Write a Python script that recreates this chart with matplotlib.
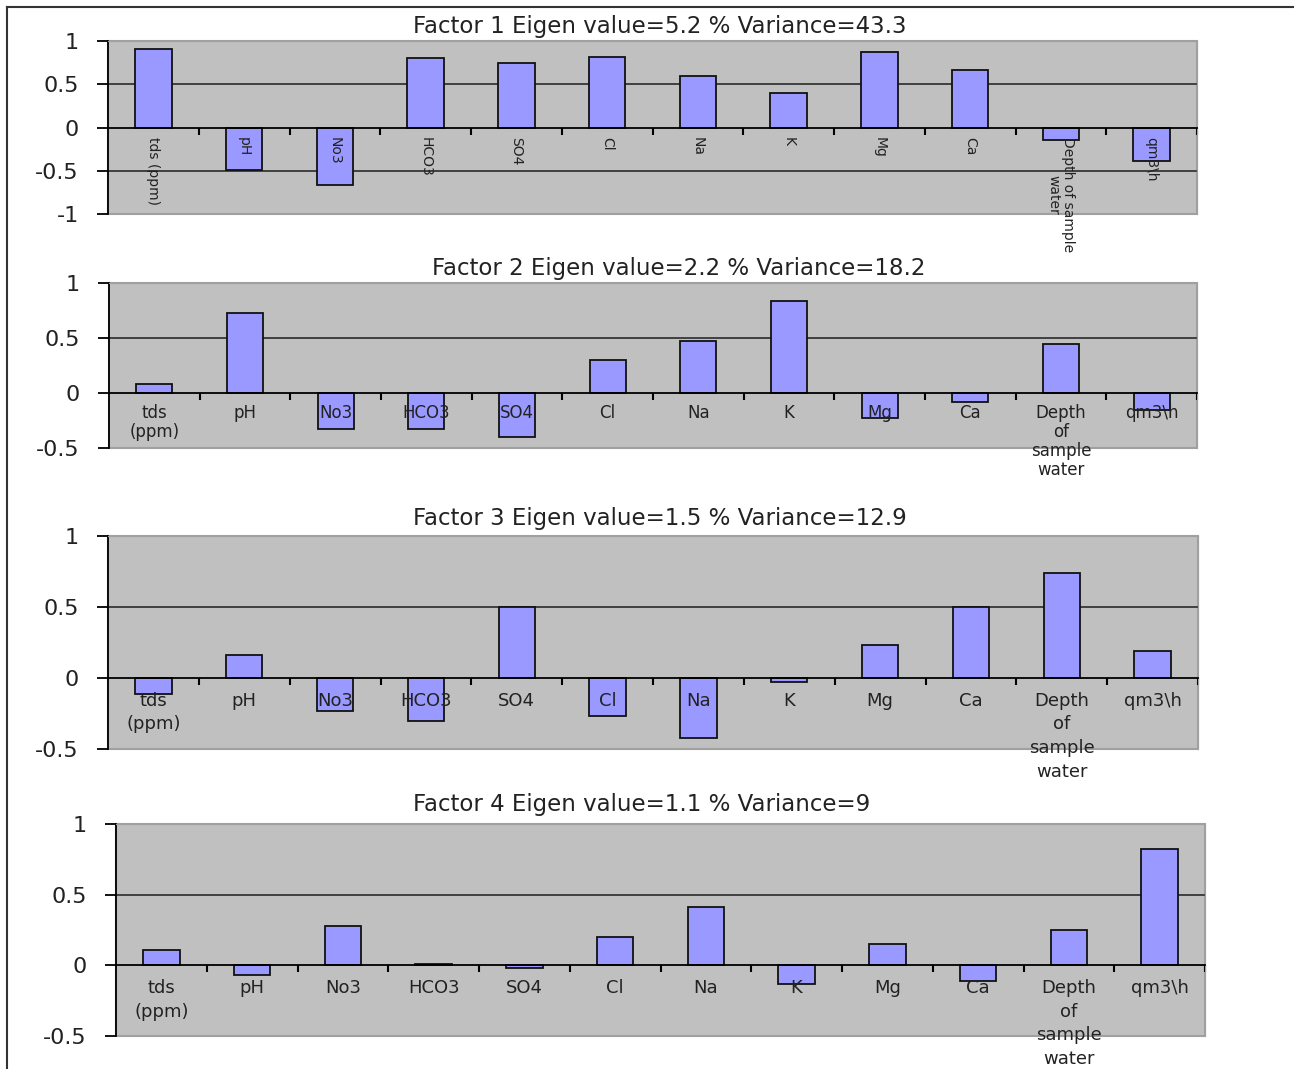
import matplotlib.pyplot as plt
from matplotlib.lines import Line2D
from matplotlib.patches import Rectangle
from matplotlib.ticker import MultipleLocator, FixedLocator

# variables shown on the x axis
labels_rot = ['tds (ppm)', 'pH', 'No3', 'HCO3', 'SO4', 'Cl', 'Na', 'K', 'Mg', 'Ca',
              'Depth of sample\nwater', 'qm3\\h']
labels = ['tds\n(ppm)', 'pH', 'No3', 'HCO3', 'SO4', 'Cl', 'Na', 'K', 'Mg', 'Ca',
          'Depth\nof\nsample\nwater', 'qm3\\h']

# factor loadings
factor1 = [0.91, -0.49, -0.66, 0.80, 0.74, 0.81, 0.59, 0.40, 0.87, 0.67, -0.15, -0.39]
factor2 = [0.08, 0.73, -0.33, -0.33, -0.40, 0.30, 0.47, 0.84, -0.23, -0.08, 0.45, -0.15]
factor3 = [-0.11, 0.16, -0.23, -0.30, 0.50, -0.27, -0.42, -0.03, 0.23, 0.50, 0.74, 0.19]
factor4 = [0.11, -0.065, 0.28, 0.01, -0.02, 0.20, 0.41, -0.13, 0.15, -0.11, 0.25, 0.82]

titles = ['Factor 1 Eigen value=5.2 % Variance=43.3',
          'Factor 2 Eigen value=2.2 % Variance=18.2',
          'Factor 3 Eigen value=1.5 % Variance=12.9',
          'Factor 4 Eigen value=1.1 % Variance=9']

plt.rcParams['font.family'] = ['DejaVu Sans']
W, H = 1294, 1069
fig = plt.figure(figsize=(W / 100, H / 100), dpi=100)

# panel boxes in pixels: x0, x1, y_top, y_bottom ; title centre
boxes = [(108, 1197, 41, 214), (109, 1197, 283, 448), (108, 1198, 536, 749), (116, 1205, 824, 1036)]
title_pos = [(660, 27), (679, 269), (660, 518), (642, 805)]
ylims = [(-1, 1), (-0.5, 1), (-0.5, 1), (-0.5, 1)]
data = [factor1, factor2, factor3, factor4]
# x label font size / line spacing / pad per panel (panel 1 is rotated)
xl_size = [10, 12, 13, 13]
xl_space = [1.1, 1.08, 1.4, 1.4]
xl_pad = [7, 8, 10, 10]

text_col = '#222222'
x = list(range(len(labels)))

for i, vals in enumerate(data):
    x0, x1, yt, yb = boxes[i]
    ax = fig.add_axes([x0 / W, 1 - yb / H, (x1 - x0) / W, (yb - yt) / H])
    ax.set_facecolor('#c0c0c0')
    ax.bar(x, vals, width=0.4, color='#9999ff', edgecolor='#111111', linewidth=1.3, zorder=1)
    ax.set_xlim(-0.5, 11.5)
    ax.set_ylim(*ylims[i])
    ax.yaxis.set_major_locator(MultipleLocator(0.5))
    # gridlines behind the bars, axis labels above them
    for g in ax.get_yticks():
        if ylims[i][0] < g < ylims[i][1] and g != 0:
            ax.axhline(g, color='#404040', linewidth=1.4, zorder=0.8)

    for s in ['top', 'right']:
        ax.spines[s].set_color('#a0a0a0')
    ax.spines['left'].set_color('black')
    ax.spines['left'].set_linewidth(1.3)
    ax.spines['bottom'].set_position(('data', 0))
    ax.spines['bottom'].set_color('black')
    ax.spines['bottom'].set_linewidth(1.3)
    ax.add_patch(Rectangle((0, 0), 1, 1, transform=ax.transAxes, fill=False,
                           edgecolor='#a0a0a0', linewidth=1.5, zorder=0.6, clip_on=False))

    ax.set_xticks(x)
    if i == 0:
        ax.set_xticklabels(labels_rot, rotation=270, va='top', ha='center',
                           fontsize=xl_size[i], linespacing=xl_space[i])
    else:
        ax.set_xticklabels(labels, linespacing=xl_space[i], fontsize=xl_size[i])
    ax.tick_params(axis='x', which='major', length=0, pad=xl_pad[i], labelcolor=text_col)
    ax.xaxis.set_minor_locator(FixedLocator([k + 0.5 for k in x]))
    ax.tick_params(axis='x', which='minor', length=5, width=1.5, direction='out', color='black')
    ax.tick_params(axis='y', length=8, width=1.3, direction='out', pad=13, labelsize=16,
                   labelcolor=text_col)
    ax.set_yticklabels([f'{t:g}' for t in ax.get_yticks()])

    tx, ty = title_pos[i]
    fig.text(tx / W, 1 - ty / H, titles[i], ha='center', va='center', fontsize=16.5, color=text_col)

# outer frame lines (top and left)
fig.add_artist(Line2D([7 / W, 1], [1 - 7 / H, 1 - 7 / H], color='#333333', linewidth=1.5))
fig.add_artist(Line2D([7 / W, 7 / W], [0, 1 - 7 / H], color='#333333', linewidth=1.5))

plt.savefig('out.png', dpi=100)
